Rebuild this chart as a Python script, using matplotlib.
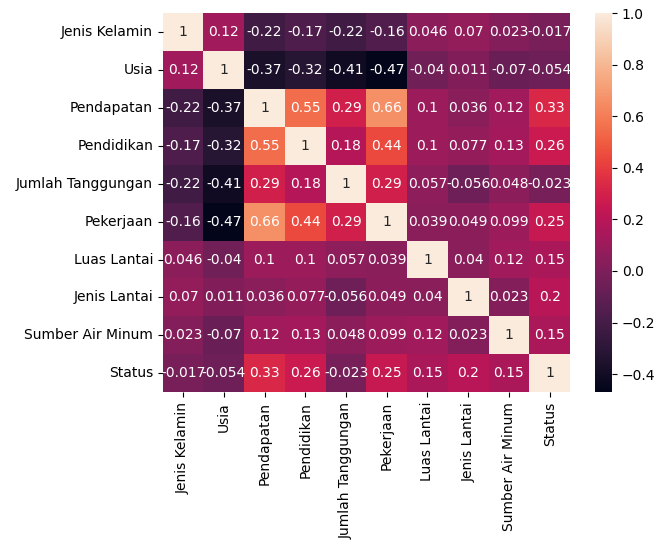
import numpy as np
import pandas as pd
import matplotlib
matplotlib.use("Agg")
import matplotlib.pyplot as plt
import seaborn as sns

labels = ["Jenis Kelamin", "Usia", "Pendapatan", "Pendidikan", "Jumlah Tanggungan",
          "Pekerjaan", "Luas Lantai", "Jenis Lantai", "Sumber Air Minum", "Status"]

r_jenis_kelamin = [1, 0.12, -0.22, -0.17, -0.22, -0.16, 0.046, 0.07, 0.023, -0.017]
r_usia          = [0.12, 1, -0.37, -0.32, -0.41, -0.47, -0.04, 0.011, -0.07, -0.054]
r_pendapatan    = [-0.22, -0.37, 1, 0.55, 0.29, 0.66, 0.1, 0.036, 0.12, 0.33]
r_pendidikan    = [-0.17, -0.32, 0.55, 1, 0.18, 0.44, 0.1, 0.077, 0.13, 0.26]
r_tanggungan    = [-0.22, -0.41, 0.29, 0.18, 1, 0.29, 0.057, -0.056, 0.048, -0.023]
r_pekerjaan     = [-0.16, -0.47, 0.66, 0.44, 0.29, 1, 0.039, 0.049, 0.099, 0.25]
r_luas_lantai   = [0.046, -0.04, 0.1, 0.1, 0.057, 0.039, 1, 0.04, 0.12, 0.15]
r_jenis_lantai  = [0.07, 0.011, 0.036, 0.077, -0.056, 0.049, 0.04, 1, 0.023, 0.2]
r_sumber_air    = [0.023, -0.07, 0.12, 0.13, 0.048, 0.099, 0.12, 0.023, 1, 0.15]
r_status        = [-0.017, -0.054, 0.33, 0.26, -0.023, 0.25, 0.15, 0.2, 0.15, 1]

corr = pd.DataFrame([r_jenis_kelamin, r_usia, r_pendapatan, r_pendidikan, r_tanggungan,
                     r_pekerjaan, r_luas_lantai, r_jenis_lantai, r_sumber_air, r_status],
                    index=labels, columns=labels)

fig = plt.figure(figsize=(6.59, 5.44), dpi=100)
ax = fig.add_axes([0.247, 0.279, 0.618, 0.697])
cax = fig.add_axes([0.903, 0.279, 0.026, 0.697])

# seaborn defaults: DejaVu Sans 10pt everywhere
sns.heatmap(corr, annot=True, ax=ax, cbar_ax=cax)
cax.set_yticks([-0.4, -0.2, 0.0, 0.2, 0.4, 0.6, 0.8, 1.0])

fig.savefig("out.png", dpi=100)
